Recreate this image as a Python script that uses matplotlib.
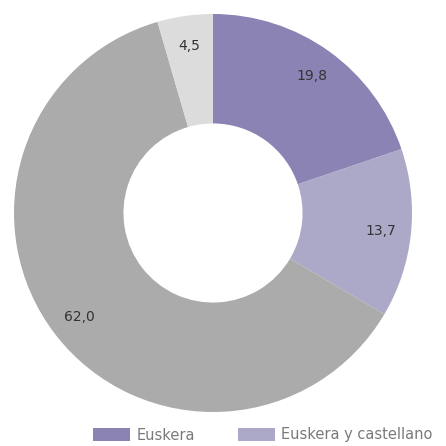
import matplotlib
matplotlib.use("Agg")
import matplotlib.pyplot as plt

# Data
categories = ["Euskera", "Euskera y castellano", "Castellano", "Otras"]
values = [19.8, 13.7, 62.0, 4.5]
colors = ["#8a83b3", "#aba8c8", "#ababab", "#dcdcdc"]
valueLabels = ["19,8", "13,7", "62,0", "4,5"]

fig = plt.figure(figsize=(4.46, 4.46), dpi=100)
ax = fig.add_axes([14 / 446, 34 / 446, 398 / 446, 398 / 446])

wedges, texts = ax.pie(
    values,
    colors=colors,
    startangle=90,
    counterclock=False,
    radius=1.0,
    labels=valueLabels,
    labeldistance=0.85,
    wedgeprops=dict(width=0.55, edgecolor="none"),
    textprops=dict(fontsize=10, color="#333333"),
)
for t in texts:
    t.set_ha("center")
    t.set_va("center")

ax.set_xlim(-1, 1)
ax.set_ylim(-1, 1)
ax.set_aspect("equal")
ax.axis("off")

# Legend (only first two entries fit in the picture)
fig.legend(
    wedges[:2],
    categories[:2],
    loc="center left",
    bbox_to_anchor=(80 / 446, 1 - 435 / 446),
    ncol=2,
    frameon=False,
    fontsize=10.5,
    handlelength=2.5,
    handleheight=1.0,
    handletextpad=0.45,
    columnspacing=3.0,
    labelcolor="#7a7a7a",
)

fig.savefig("out.png", dpi=100)
